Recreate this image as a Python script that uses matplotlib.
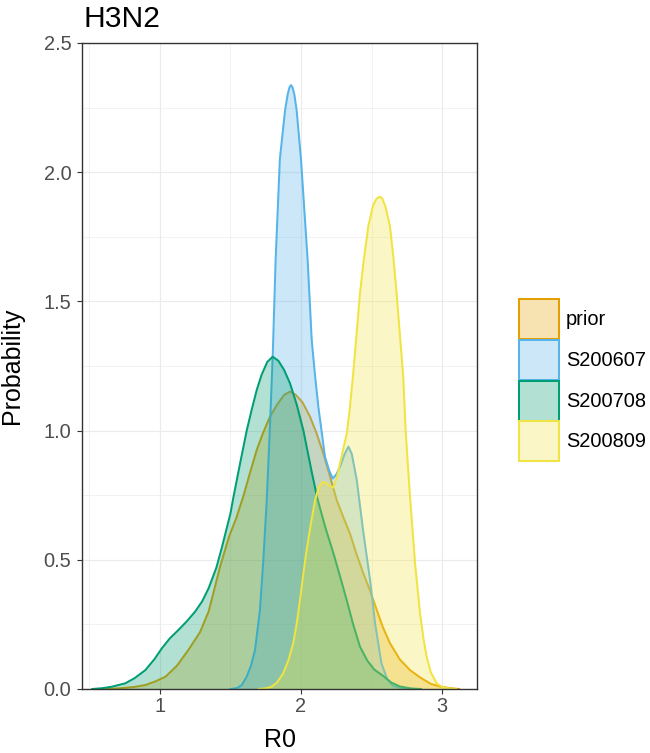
import matplotlib
matplotlib.use("Agg")
import matplotlib.pyplot as plt
from matplotlib.patches import Patch

plt.rcParams['font.family'] = ['Liberation Sans', 'DejaVu Sans']

# density curves (x = R0, y = density)
prior_x = [0.62, 0.72, 0.82, 0.90, 0.97, 1.04, 1.12, 1.20, 1.284, 1.345,
           1.426, 1.49, 1.54, 1.59, 1.64, 1.686, 1.73, 1.78, 1.83, 1.88,
           1.922, 1.96, 2.01, 2.064, 2.11, 2.158, 2.206, 2.253, 2.30, 2.348,
           2.395, 2.44, 2.49, 2.537, 2.58, 2.631, 2.70, 2.773, 2.844, 2.92,
           2.99, 3.06, 3.12]
prior_y = [0, 0.003, 0.008, 0.016, 0.030, 0.048, 0.09, 0.15, 0.22, 0.30,
           0.473, 0.59, 0.66, 0.744, 0.84, 0.925, 0.99, 1.054, 1.10, 1.138,
           1.151, 1.14, 1.11, 1.054, 0.99, 0.912, 0.822, 0.731, 0.665, 0.60,
           0.52, 0.45, 0.38, 0.306, 0.24, 0.177, 0.115, 0.073, 0.045, 0.02,
           0.009, 0.003, 0]

s0607_x = [1.50, 1.544, 1.58, 1.615, 1.645, 1.674, 1.709, 1.733, 1.757, 1.78,
           1.80, 1.82, 1.85, 1.887, 1.905, 1.918, 1.929, 1.94, 1.953, 1.969,
           2.0, 2.047, 2.076, 2.10, 2.123, 2.17, 2.20, 2.225, 2.25, 2.277,
           2.31, 2.336, 2.36, 2.395, 2.44, 2.49, 2.525, 2.57, 2.61, 2.65,
           2.72, 2.80]
s0607_y = [0, 0.003, 0.015, 0.048, 0.09, 0.151, 0.306, 0.50, 0.731, 1.02,
           1.30, 1.66, 2.05, 2.24, 2.30, 2.328, 2.337, 2.328, 2.30, 2.24,
           2.05, 1.66, 1.35, 1.21, 1.092, 0.899, 0.845, 0.815, 0.83, 0.86,
           0.91, 0.938, 0.91, 0.81, 0.615, 0.42, 0.255, 0.10, 0.04, 0.012,
           0.002, 0]

s0708_x = [0.52, 0.59, 0.66, 0.754, 0.82, 0.896, 0.96, 1.014, 1.07, 1.13,
           1.19, 1.25, 1.30, 1.345, 1.40, 1.44, 1.50, 1.52, 1.567, 1.615,
           1.65, 1.686, 1.72, 1.76, 1.799, 1.84, 1.88, 1.922, 1.97, 2.017,
           2.076, 2.115, 2.17, 2.23, 2.28, 2.324, 2.37, 2.418, 2.47, 2.52,
           2.584, 2.64, 2.70, 2.78, 2.85]
s0708_y = [0, 0.003, 0.009, 0.022, 0.042, 0.073, 0.115, 0.158, 0.196, 0.228,
           0.262, 0.30, 0.34, 0.39, 0.47, 0.55, 0.68, 0.74, 0.87, 1.0,
           1.08, 1.157, 1.215, 1.265, 1.286, 1.27, 1.235, 1.183, 1.10, 1.0,
           0.84, 0.74, 0.63, 0.525, 0.43, 0.344, 0.25, 0.164, 0.11, 0.075,
           0.05, 0.025, 0.01, 0.002, 0]

s0809_x = [1.70, 1.757, 1.792, 1.83, 1.874, 1.91, 1.945, 1.97, 1.993, 2.015,
           2.04, 2.07, 2.10, 2.125, 2.15, 2.175, 2.20, 2.229, 2.255, 2.277,
           2.30, 2.325, 2.345, 2.37, 2.395, 2.418, 2.445, 2.477, 2.51, 2.535,
           2.556, 2.575, 2.60, 2.631, 2.655, 2.678, 2.70, 2.725, 2.742, 2.773,
           2.809, 2.844, 2.87, 2.891, 2.92, 2.962, 3.00, 3.057, 3.10]
s0809_y = [0, 0.003, 0.009, 0.025, 0.061, 0.11, 0.177, 0.255, 0.344, 0.44,
           0.538, 0.64, 0.731, 0.78, 0.80, 0.80, 0.787, 0.78, 0.82, 0.874,
           0.93, 0.99, 1.08, 1.22, 1.38, 1.53, 1.66, 1.79, 1.87, 1.897,
           1.905, 1.90, 1.865, 1.79, 1.67, 1.532, 1.38, 1.209, 1.0, 0.744,
           0.486, 0.293, 0.19, 0.125, 0.065, 0.022, 0.008, 0.002, 0]

names = ['prior', 'S200607', 'S200708', 'S200809']
colors = ['#E69F00', '#56B4E9', '#009E73', '#F0E442']
curves = [(prior_x, prior_y), (s0607_x, s0607_y), (s0708_x, s0708_y), (s0809_x, s0809_y)]

x_ticks = [1, 2, 3]
x_minor = [0.5, 1.5, 2.5]
y_ticks = [0.0, 0.5, 1.0, 1.5, 2.0, 2.5]
y_minor = [0.25, 0.75, 1.25, 1.75, 2.25]

W, H = 650, 753
fig = plt.figure(figsize=(6.5, 7.53), dpi=100)
ax = fig.add_axes([82 / W, 1 - 689 / H, (477 - 82) / W, (689 - 43) / H])

# ggplot order: fill then outline, group by group
for (x, y), c in zip(curves, colors):
    ax.fill_between(x, y, 0, color=c, alpha=0.3, lw=0, zorder=2)
    ax.plot(x, y, color=c, lw=1.45, solid_joinstyle='round', zorder=2)

ax.set_xlim(0.447, 3.248)
ax.set_ylim(0, 2.5)
ax.set_xticks(x_ticks)
ax.set_xticklabels([str(t) for t in x_ticks])
ax.set_xticks(x_minor, minor=True)
ax.set_yticks(y_ticks)
ax.set_yticklabels(['%.1f' % t for t in y_ticks])
ax.set_yticks(y_minor, minor=True)

ax.grid(which='major', color='#EBEBEB', lw=0.85, zorder=0)
ax.grid(which='minor', color='#EBEBEB', lw=0.45, zorder=0)
ax.set_axisbelow(True)
ax.tick_params(which='major', length=3.6, width=0.8, color='#333333',
               labelsize=14.4, labelcolor='#4D4D4D', pad=2.5)
ax.tick_params(axis='y', pad=4)
ax.tick_params(which='minor', length=0)
for sp in ax.spines.values():
    sp.set_color('#333333')
    sp.set_linewidth(1.0)

fig.text(83 / W, 1 - 27 / H, 'H3N2', fontsize=21.6, va='baseline', ha='left')
fig.text(279.5 / W, 1 - 747 / H, 'R0', fontsize=18, va='baseline', ha='center')
fig.text(12.5 / W, 1 - 366 / H, 'Probability', fontsize=18, rotation=90,
         va='center', ha='center')

handles = [Patch(facecolor=matplotlib.colors.to_rgba(c, 0.3), edgecolor=c, lw=1.45)
           for c in colors]
fig.legend(handles, names, loc='upper left', bbox_to_anchor=(519 / W, 1 - 299 / H),
           frameon=False, fontsize=14.4, handlelength=2.0, handleheight=2.7,
           labelspacing=0.04, handletextpad=0.35, borderpad=0, borderaxespad=0)

fig.savefig('out.png', dpi=100)
